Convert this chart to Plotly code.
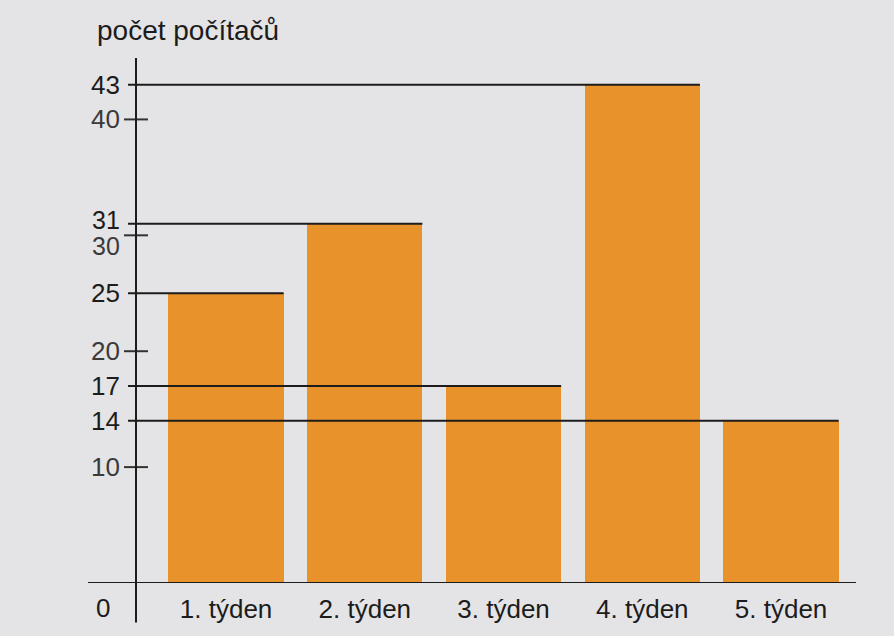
import plotly.graph_objects as go

categories = ["1. týden", "2. týden", "3. týden", "4. týden", "5. týden"]
values = [25, 31, 17, 43, 14]
minor_ticks = [10, 20, 30, 40]
y_title = "počet počítačů"

BAR_W = 0.83
ORANGE = "#E8922C"
BG = "#E4E4E6"
INK = "#1c1c1c"
FONT = "Liberation Sans, Arial, sans-serif"

xs = list(range(len(categories)))
UNIT_PX = 138.75          # px per category unit
X_AXIS = -0.649           # data x where the vertical axis stands
PAD = 14                  # px of plot area left of the axis
X_MIN = X_AXIS - PAD / UNIT_PX
X_MAX = 4.54
L, R, T, B = 122, 38, 58, 51
PLOT_W = 894 - L - R


def px_to_paper(px):
    return (px - L) / PLOT_W


AX_PAPER = px_to_paper(L + PAD)

fig = go.Figure()
fig.add_trace(go.Bar(x=xs, y=values, width=BAR_W, marker=dict(color=ORANGE, line=dict(width=0)),
                     hoverinfo="skip", showlegend=False))

# horizontal reference lines from axis to each bar's right edge
for i, v in enumerate(values):
    fig.add_trace(go.Scatter(x=[X_AXIS - 8 / UNIT_PX, i + BAR_W / 2], y=[v, v], mode="lines",
                             line=dict(color=INK, width=2),
                             hoverinfo="skip", showlegend=False))

# tick crosses on the axis
for v in minor_ticks:
    fig.add_trace(go.Scatter(x=[X_AXIS - 12 / UNIT_PX, X_AXIS + 12 / UNIT_PX], y=[v, v], mode="lines",
                             line=dict(color="#333333", width=2),
                             hoverinfo="skip", showlegend=False))

fig.update_layout(
    width=894, height=636,
    margin=dict(l=L, r=R, t=T, b=B),
    paper_bgcolor=BG, plot_bgcolor=BG,
    font=dict(family=FONT, size=26, color=INK),
    bargap=0,
    xaxis=dict(range=[X_MIN, X_MAX], tickvals=xs, ticktext=categories, showgrid=False,
               zeroline=False, showline=False, ticks="", ticklabelstandoff=8,
               tickfont=dict(size=26, color=INK)),
    yaxis=dict(range=[0, 45.3], showticklabels=False, ticks="", showgrid=False,
               zeroline=False, showline=False),
)

# axes lines
fig.add_shape(type="line", xref="paper", yref="paper", x0=AX_PAPER, x1=AX_PAPER, y0=-0.075, y1=1.0,
              line=dict(color=INK, width=2))
fig.add_shape(type="line", xref="paper", yref="y", x0=px_to_paper(88), x1=1.0, y0=0, y1=0,
              line=dict(color=INK, width=2))

# tick labels
LBL_X = px_to_paper(121)
for v in minor_ticks:
    fig.add_annotation(xref="paper", yref="y", x=LBL_X, y=v, text=str(v), showarrow=False,
                       xanchor="right", yanchor="middle", yshift=-11 if v == 30 else 0,
                       borderpad=0,
                       font=dict(size=25 if v == 30 else 26, color="#3a3a3a"))
for v in values:
    fig.add_annotation(xref="paper", yref="y", x=LBL_X, y=v, text=str(v), showarrow=False,
                       xanchor="right", yanchor="middle", yshift=4 if v == 31 else 0,
                       borderpad=0,
                       font=dict(size=25 if v == 31 else 26, color=INK))
fig.add_annotation(xref="paper", yref="paper", x=px_to_paper(103), y=-0.047, text="0", showarrow=False,
                   xanchor="center", yanchor="middle", font=dict(size=26, color=INK))
fig.add_annotation(xref="paper", yref="paper", x=px_to_paper(95), y=1.053, text=y_title, showarrow=False,
                   xanchor="left", yanchor="middle", font=dict(size=28, color=INK))

fig.write_html("out.html", config={"displayModeBar": False},
               post_script="document.body.style.margin='0';document.body.style.background='#E4E4E6';")
